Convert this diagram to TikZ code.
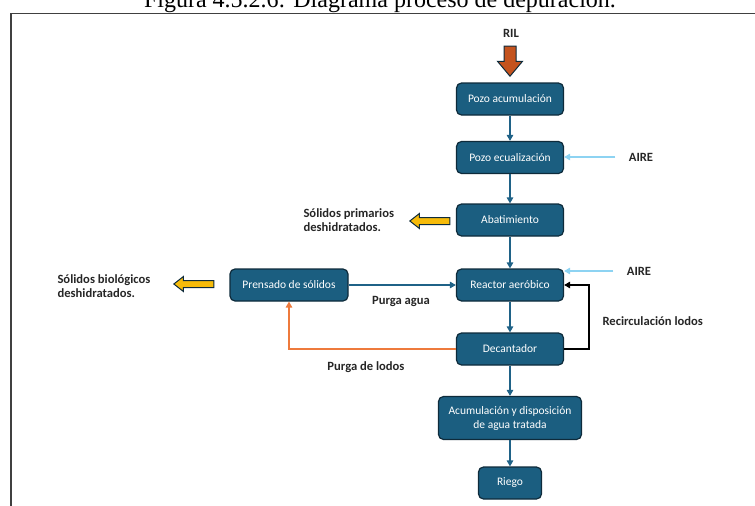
\documentclass[tikz,border=0pt]{standalone}
\usepackage{fontspec}
\setmainfont{Carlito}
\newfontfamily\captionfont{Liberation Serif}
\usetikzlibrary{shapes.arrows,arrows.meta}
\definecolor{boxblue}{HTML}{1B5E80}
\definecolor{boxedge}{HTML}{0E2B3B}
\definecolor{flowblue}{HTML}{1F6287}
\definecolor{airblue}{HTML}{8DD3F2}
\definecolor{sludge}{HTML}{EE7A3C}
\definecolor{rilbrown}{HTML}{C4531E}
\definecolor{solidyellow}{HTML}{F6BB0A}
\begin{document}
\begin{tikzpicture}[x=1pt,y=-1pt,
    proc/.style={draw=boxedge,fill=boxblue,rounded corners=5pt,line width=1.2pt,
      text=white,font=\fontsize{11.5}{14}\selectfont,align=center,
      minimum width=107pt,minimum height=32pt,inner sep=2pt},
    lbl/.style={font=\bfseries\fontsize{12.6}{14.5}\selectfont,text=black!85,align=left},
    flow/.style={draw=flowblue,line width=1.3pt,-{Triangle[length=6pt,width=6.5pt]}},
    air/.style={draw=airblue,line width=1.3pt,-{Triangle[length=6pt,width=6.5pt]}},
    purge/.style={draw=sludge,line width=1.3pt,-{Triangle[length=6pt,width=6.5pt]}},
    recirc/.style={draw=black,line width=1.3pt,-{Triangle[length=6pt,width=6.5pt]}},
    blockarrow/.style={single arrow,draw=boxedge,line width=1pt,anchor=tip,
      single arrow head indent=0pt}]
  \useasboundingbox (0,0) rectangle (755,506);
  \node[font=\captionfont\fontsize{24}{27}\selectfont,anchor=base] (title) at (380,7)
    {Figura 4.5.2.6: Diagrama proceso de depuración.};
  \draw[line width=1.5pt,black!75] (11,520) -- (11,13.5) -- (770,13.5);

  % linea principal
  \node[lbl] (ril) at (511,33) {RIL};
  \node[blockarrow,fill=rilbrown,shape border rotate=270,minimum height=30pt,
    inner sep=5.5pt,single arrow head extend=6.5pt,single arrow tip angle=80] (rilarrow) at (510,77) {};
  \node[proc] (acum) at (510,99) {Pozo acumulación};
  \node[proc] (ecual) at (510,157.5) {Pozo ecualización};
  \node[proc] (abat) at (510,220) {Abatimiento};
  \node[proc] (reactor) at (510,285) {Reactor aeróbico};
  \node[proc] (decant) at (510,349) {Decantador};
  \node[proc,minimum width=143pt,minimum height=43pt] (acumdisp) at (510,418)
    {Acumulación y disposición\\de agua tratada};
  \node[proc,minimum width=63pt] (riego) at (510,483) {Riego};
  \node[proc,minimum width=118pt] (prensado) at (289,285) {Prensado de sólidos};

  \draw[flow] (acum) -- (ecual);
  \draw[flow] (ecual) -- (abat);
  \draw[flow] (abat) -- (reactor);
  \draw[flow] (reactor) -- (decant);
  \draw[flow] (decant) -- (acumdisp);
  \draw[flow] (acumdisp) -- (riego);
  \draw[flow] (prensado) -- (reactor);
  \draw[purge] (decant.west) -| (prensado.south);
  \draw[recirc] (decant.east) -- ++(25,0) |- (reactor.east);

  % aire
  \node[lbl] (aire1) at (641,157) {AIRE};
  \node[lbl] (aire2) at (639,271) {AIRE};
  \draw[air,shorten <=10pt] (aire1.west) -- (aire1.west -| ecual.east);
  \draw[air,shorten <=10pt] (aire2.west) -- (aire2.west -| reactor.east);

  % solidos
  \node[blockarrow,fill=solidyellow,shape border rotate=180,minimum height=40pt,
    inner sep=3pt,single arrow head extend=4pt,single arrow tip angle=76] (yarrow1) at (409,221) {};
  \node[blockarrow,fill=solidyellow,shape border rotate=180,minimum height=40pt,
    inner sep=3pt,single arrow head extend=4pt,single arrow tip angle=76] (yarrow2) at (173,284) {};
  \node[lbl,anchor=west] (primarios) at (300,220) {Sólidos primarios\\deshidratados.};
  \node[lbl,anchor=west] (biologicos) at (54,286) {Sólidos biológicos\\deshidratados.};

  % etiquetas
  \node[lbl] (purgaagua) at (401,301) {Purga agua};
  \node[lbl] (purgalodos) at (366,367) {Purga de lodos};
  \node[lbl,anchor=west] (recirlbl) at (599,321) {Recirculación lodos};
\end{tikzpicture}
\end{document}
